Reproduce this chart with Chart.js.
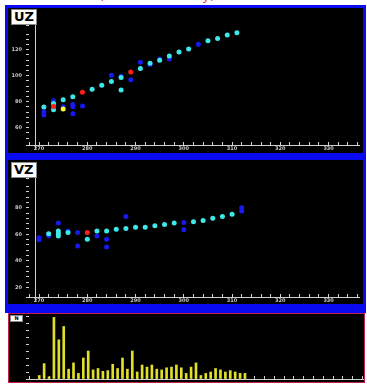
<!DOCTYPE html>
<html>
<head>
<meta charset="utf-8">
<script src="https://cdn.jsdelivr.net/npm/chart.js@4.4.1/dist/chart.umd.min.js"></script>
<style>
  body { margin: 0; background: #fff; }
  #page { position: relative; width: 367px; height: 384px; overflow: hidden; background: #fff; }
  .frame { position: absolute; background: #0a0af0; }
  .frame canvas { position: absolute; background: #000; }
  .tag { position: absolute; background: #fff; color: #000; font: bold 13px "DejaVu Sans", sans-serif;
         line-height: 14px; padding: 0 2px; border: 1px solid #888; }
  #top { position: absolute; left: 99px; top: -12px; color: #f03030; font: 13px "DejaVu Sans", sans-serif;
         line-height: 15px; white-space: nowrap; }
  #histBox { position: absolute; left: 8px; top: 313px; width: 355px; height: 68px; border: 1px solid #c0204a; background: #000; }
  #histBox canvas { position: absolute; left: 0; top: 0; }
</style>
</head>
<body>
<div id="page">
  <div id="top">(Model Summary)</div>
  <div class="frame" style="left:5px;top:5px;width:361px;height:155px;">
    <canvas id="uzChart" width="355" height="145" style="left:3px;top:3px;"></canvas>
  </div>
  <div class="tag" style="left:11px;top:9px;">UZ</div>
  <div class="frame" style="left:5px;top:160px;width:361px;height:153px;">
    <canvas id="vzChart" width="355" height="144" style="left:3px;top:0px;"></canvas>
  </div>
  <div class="tag" style="left:11px;top:162px;">VZ</div>
  <div id="histBox">
    <canvas id="histChart" width="355" height="68"></canvas>
  </div>
  <div class="tag" style="left:10px;top:315px;width:9px;font-size:5px;line-height:5px;padding:0 1px;text-align:center;">N</div>
</div>
<script>
// eje x comun
const xMin = 267.3;
const xMax = 336.3;
const xLabels = [270, 280, 290, 300, 310, 320, 330];

// UZ
const uzCyanX = [271, 273, 273, 275, 277, 281, 283, 285, 287, 287, 291, 293, 295, 297, 299, 301, 305, 307, 309, 311];
const uzCyanY = [75.9, 78.7, 73.8, 81.5, 83.8, 89.5, 92.6, 95.6, 98.7, 89, 105.6, 109.5, 111.8, 115.1, 118.2, 120.5, 126.9, 128.7, 131.3, 133.1];
const uzBlueX = [271, 271, 273, 275, 277, 277, 277, 279, 285, 287, 289, 291, 293, 295, 297, 303];
const uzBlueY = [72.3, 69.7, 80.8, 76.2, 77.9, 76.2, 70.8, 76.7, 100.3, 99.5, 96.9, 110.3, 108.7, 112.8, 112.8, 124.1];
const uzRedX = [273, 279, 289];
const uzRedY = [76.4, 87.2, 102.8];
const uzYellowX = [275];
const uzYellowY = [74.4];
const uzYLabels = [60, 80, 100, 120];

// VZ
const vzCyanX = [272, 274, 274, 274, 276, 280, 282, 284, 286, 288, 290, 292, 294, 296, 298, 302, 304, 306, 308, 310];
const vzCyanY = [60.5, 62.5, 60.5, 58.8, 61.3, 56.3, 62.5, 62.5, 63.8, 64.3, 65.3, 65.3, 66.5, 67.3, 68.5, 69.5, 70.3, 72, 73.3, 75];
const vzBlueX = [270, 270, 272, 274, 276, 278, 278, 282, 284, 284, 288, 300, 300, 312, 312];
const vzBlueY = [57.5, 56, 59, 68.5, 62.5, 61.3, 51.3, 58.8, 56.3, 50.5, 73.3, 68.8, 63.5, 80, 77.5];
const vzRedX = [280];
const vzRedY = [61.3];
const vzYLabels = [20, 40, 60, 80, 100];

// histograma
const histX = [270, 271, 272, 273, 274, 275, 276, 277, 278, 279, 280, 281, 282, 283, 284, 285, 286, 287, 288, 289, 290,
               291, 292, 293, 294, 295, 296, 297, 298, 299, 300, 301, 302, 303, 304, 305, 306, 307, 308, 309, 310, 311, 312];
const histY = [0.5, 2.2, 0.3, 8.8, 5.6, 7.5, 1.4, 2.3, 0.8, 3.0, 4.0, 1.3, 1.5, 1.1, 1.2, 2.1, 1.5, 3.0, 1.4, 4.0, 1.0,
               2.0, 1.7, 2.0, 1.4, 1.3, 1.6, 1.7, 2.0, 1.6, 0.8, 1.7, 2.3, 0.5, 0.8, 1.0, 1.5, 1.3, 1.0, 1.2, 1.0, 0.8, 0.8];

const axisColor = '#d0d0d0';
const tickFont = { family: 'DejaVu Sans', size: 5, weight: 'bold' };

function pts(xs, ys) {
    return xs.map((x, i) => ({ x: x, y: ys[i] }));
}

function dots(xs, ys, color) {
    return { data: pts(xs, ys), backgroundColor: color, borderWidth: 0, pointRadius: 2.5 };
}

// linea vertical junto al eje y
const innerLine = {
    id: 'innerLine',
    afterDraw(chart, args, opts) {
        if (opts.value === undefined) return;
        const x = Math.round(chart.scales.x.getPixelForValue(opts.value)) + 0.5;
        const ctx = chart.ctx;
        ctx.save();
        ctx.strokeStyle = axisColor;
        ctx.lineWidth = 1;
        ctx.beginPath();
        ctx.moveTo(x, chart.chartArea.top);
        ctx.lineTo(x, chart.chartArea.bottom + 4);
        ctx.stroke();
        ctx.restore();
    }
};

function xScale(height, labels) {
    return {
        type: 'linear', min: xMin, max: xMax,
        offset: false,
        afterBuildTicks: (s) => {
            const t = [];
            for (let v = 268; v <= 336; v += 2) t.push({ value: v });
            s.ticks = t;
        },
        afterFit: (s) => { s.height = height; s.paddingLeft = 0; s.paddingRight = 0; },
        ticks: {
            autoSkip: false, maxRotation: 0, padding: 4, color: '#c8c8c8', font: tickFont,
            callback: (v) => labels.includes(v) ? String(v) : ''
        },
        grid: { drawOnChartArea: false, offset: false, color: axisColor, tickLength: -3 },
        border: { display: true, color: axisColor }
    };
}

function yScale(min, max, step, labels, width) {
    return {
        type: 'linear', min: min, max: max,
        // ancho fijo y sin relleno extra arriba/abajo
        afterFit: (s) => { s.width = width; s.paddingTop = 0; s.paddingBottom = 0; },
        ticks: {
            stepSize: step, autoSkip: false, padding: 7, color: '#c8c8c8', font: tickFont,
            callback: (v) => labels.includes(v) ? String(v) : ''
        },
        grid: { drawOnChartArea: false, color: axisColor, tickLength: -3 },
        border: { display: false }
    };
}

function scatterChart(id, sets, yMin, yMax, yLabels, top, xh) {
    const ctx = document.getElementById(id).getContext('2d');
    return new Chart(ctx, {
        type: 'scatter',
        data: { datasets: sets },
        options: {
            responsive: false, animation: false,
            layout: { padding: { top: top, left: 0, right: 0, bottom: 0 } },
            plugins: { legend: { display: false }, tooltip: { enabled: false }, innerLine: { value: 269.1 } },
            scales: { x: xScale(xh, xLabels), y: yScale(yMin, yMax, 4, yLabels, 18) }
        },
        plugins: [innerLine]
    });
}

scatterChart('uzChart', [
    dots(uzRedX, uzRedY, '#ff1e1e'),
    dots(uzYellowX, uzYellowY, '#ffff30'),
    dots(uzCyanX, uzCyanY, '#3ee8e8'),
    dots(uzBlueX, uzBlueY, '#1818f0')
], 46.7, 139, uzYLabels, 17, 8);

scatterChart('vzChart', [
    dots(vzRedX, vzRedY, '#ff1e1e'),
    dots(vzCyanX, vzCyanY, '#3ee8e8'),
    dots(vzBlueX, vzBlueY, '#1818f0')
], 12.9, 102.3, vzYLabels, 18, 7);

new Chart(document.getElementById('histChart').getContext('2d'), {
    type: 'bar',
    data: { datasets: [{ data: pts(histX, histY), backgroundColor: '#e0e028', barThickness: 2 }] },
    options: {
        responsive: false, animation: false,
        layout: { padding: { top: 2, left: 0, right: 0, bottom: 0 } },
        plugins: { legend: { display: false }, tooltip: { enabled: false } },
        scales: {
            x: xScale(3, []),
            y: yScale(0, 9, 1, [], 17)
        }
    }
});
</script>
</body>
</html>
